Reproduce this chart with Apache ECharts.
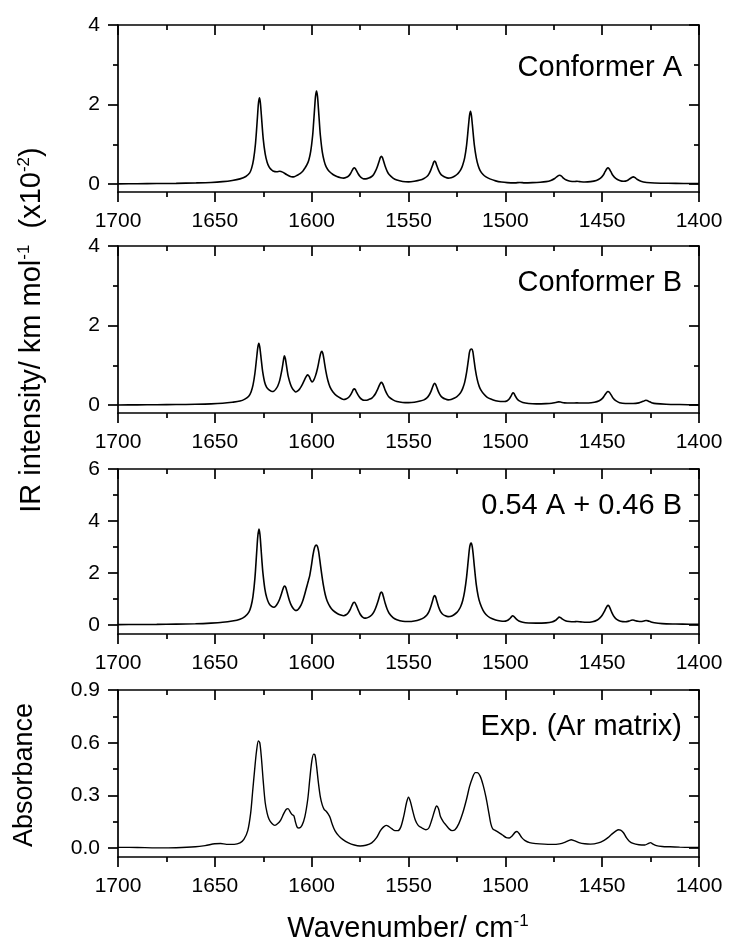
<!DOCTYPE html>
<html>
<head>
<meta charset="utf-8">
<script src="https://cdn.jsdelivr.net/npm/echarts@6/dist/echarts.min.js"></script>
<style>
  html, body { margin: 0; padding: 0; background: #fff; }
  #chart { width: 729px; height: 947px; }
</style>
</head>
<body>
<div id="chart"></div>
<script>
  // spectra: [wavenumber, intensity]
  const specA = [[1700,0.005],[1690,0.008],[1680,0.012],[1670,0.018],[1660,0.028],[1652,0.04],[1646,0.06],[1641,0.09],[1637,0.13],[1634,0.19],[1632,0.28],[1631,0.40],[1630,0.62],[1629,1.02],[1628,1.68],[1627.5,2.02],[1627,2.17],[1626.5,2.05],[1626,1.75],[1625,1.13],[1624,0.76],[1623,0.55],[1622,0.43],[1621,0.37],[1620,0.33],[1618,0.31],[1616.5,0.32],[1615,0.30],[1613,0.24],[1611,0.19],[1610,0.18],[1609,0.185],[1607.5,0.22],[1606,0.26],[1604.5,0.33],[1603.5,0.40],[1602.5,0.48],[1601.5,0.60],[1600.5,0.82],[1599.5,1.22],[1599,1.54],[1598.5,1.89],[1598,2.21],[1597.5,2.34],[1597,2.21],[1596.5,1.89],[1596,1.54],[1595.5,1.22],[1594.5,0.80],[1593.5,0.57],[1592.5,0.43],[1591,0.32],[1589,0.24],[1587,0.19],[1585,0.16],[1583.5,0.15],[1582,0.17],[1581,0.20],[1580,0.26],[1579,0.35],[1578.5,0.39],[1578,0.41],[1577.5,0.39],[1577,0.35],[1576,0.26],[1575,0.19],[1574,0.15],[1573,0.13],[1572,0.13],[1570.5,0.15],[1569,0.19],[1568,0.24],[1567,0.33],[1566,0.45],[1565,0.60],[1564.5,0.67],[1564,0.70],[1563.5,0.67],[1563,0.60],[1562,0.44],[1561,0.32],[1560,0.24],[1558,0.15],[1556,0.10],[1553,0.065],[1550,0.055],[1547,0.07],[1544,0.10],[1542,0.14],[1540.5,0.19],[1539.5,0.25],[1538.5,0.35],[1537.5,0.48],[1537,0.55],[1536.5,0.58],[1536,0.55],[1535.5,0.48],[1534.5,0.35],[1533.5,0.26],[1532.5,0.21],[1531,0.17],[1529.5,0.15],[1528,0.16],[1526.5,0.19],[1525,0.24],[1524,0.29],[1523,0.36],[1522,0.48],[1521,0.66],[1520,0.98],[1519,1.48],[1518.5,1.72],[1518,1.83],[1517.5,1.72],[1517,1.48],[1516,0.98],[1515,0.66],[1514,0.46],[1513,0.34],[1511.5,0.24],[1510,0.18],[1508,0.13],[1505,0.08],[1502,0.05],[1499,0.035],[1495,0.03],[1492.5,0.04],[1490,0.03],[1486,0.035],[1482,0.045],[1479,0.06],[1476.5,0.09],[1474.5,0.14],[1473,0.20],[1472,0.22],[1471,0.20],[1470,0.15],[1468.5,0.10],[1466.5,0.07],[1464,0.065],[1463,0.07],[1461.5,0.06],[1459,0.05],[1456,0.06],[1453,0.09],[1451,0.14],[1449.5,0.22],[1448.5,0.31],[1447.5,0.39],[1447,0.41],[1446.5,0.39],[1445.5,0.31],[1444.5,0.22],[1443,0.14],[1441,0.09],[1439,0.07],[1437,0.09],[1435.5,0.14],[1434.5,0.17],[1434,0.18],[1433,0.16],[1432,0.12],[1430,0.07],[1427,0.04],[1423,0.025],[1416,0.02],[1408,0.015],[1400,0.01]];

  const specB = [[1700,0.003],[1690,0.005],[1680,0.008],[1670,0.012],[1660,0.02],[1652,0.03],[1646,0.045],[1641,0.07],[1637,0.10],[1634.5,0.15],[1632.5,0.22],[1631.3,0.33],[1630.3,0.50],[1629.3,0.80],[1628.3,1.24],[1627.8,1.45],[1627.3,1.55],[1626.8,1.46],[1626.3,1.26],[1625.8,1.04],[1625.3,0.84],[1624.3,0.58],[1623.3,0.45],[1622,0.38],[1620.5,0.34],[1619.5,0.35],[1618.5,0.40],[1617.5,0.48],[1616.5,0.62],[1615.5,0.85],[1615,0.99],[1614.5,1.15],[1614.1,1.24],[1613.6,1.17],[1613.1,1.02],[1612.6,0.86],[1612.1,0.72],[1611,0.53],[1610,0.42],[1609,0.36],[1608.2,0.33],[1607,0.36],[1606,0.42],[1605,0.50],[1604,0.60],[1603,0.70],[1602.1,0.76],[1601.3,0.72],[1600.5,0.63],[1599.8,0.58],[1599,0.62],[1598,0.74],[1597,0.92],[1596,1.16],[1595.3,1.31],[1594.7,1.35],[1594.1,1.27],[1593.5,1.10],[1592.7,0.86],[1591.7,0.63],[1590.5,0.45],[1589,0.33],[1587,0.23],[1585,0.17],[1583.5,0.14],[1582,0.16],[1581,0.19],[1580,0.25],[1579,0.34],[1578.5,0.39],[1578,0.41],[1577.5,0.39],[1577,0.34],[1576,0.25],[1575,0.18],[1574,0.14],[1573,0.12],[1572,0.12],[1570.5,0.14],[1569,0.17],[1568,0.22],[1567,0.29],[1566,0.39],[1565,0.50],[1564.5,0.55],[1564,0.57],[1563.5,0.55],[1563,0.50],[1562,0.37],[1561,0.27],[1560,0.20],[1558,0.13],[1556,0.09],[1553,0.065],[1550,0.06],[1547,0.07],[1544,0.10],[1542,0.13],[1540.5,0.18],[1539.5,0.24],[1538.5,0.33],[1537.5,0.46],[1537,0.52],[1536.5,0.55],[1536,0.52],[1535.5,0.46],[1534.5,0.33],[1533.5,0.24],[1532.5,0.19],[1531,0.15],[1529.5,0.13],[1528,0.14],[1526.5,0.17],[1525,0.21],[1524,0.26],[1523,0.32],[1522,0.42],[1521,0.57],[1520,0.82],[1519,1.16],[1518.5,1.33],[1518,1.40],[1517.3,1.41],[1516.8,1.35],[1516.3,1.18],[1515.5,0.90],[1514.5,0.64],[1513.5,0.47],[1512.5,0.37],[1511,0.27],[1509.5,0.20],[1507.5,0.15],[1505,0.11],[1502.5,0.09],[1500.5,0.09],[1499,0.11],[1498,0.15],[1497,0.23],[1496.5,0.28],[1496,0.31],[1495.5,0.29],[1495,0.24],[1494,0.16],[1493,0.11],[1491,0.065],[1488,0.04],[1484,0.03],[1479,0.035],[1476,0.045],[1474,0.065],[1472.5,0.08],[1471.5,0.075],[1469.5,0.055],[1466,0.05],[1463,0.055],[1461,0.05],[1457,0.05],[1454,0.07],[1451.5,0.11],[1450,0.16],[1448.8,0.24],[1447.8,0.31],[1447,0.34],[1446.3,0.32],[1445.3,0.25],[1444.3,0.17],[1443,0.11],[1441,0.06],[1438,0.04],[1434,0.04],[1431,0.055],[1429.5,0.08],[1428.3,0.105],[1427.5,0.12],[1426.8,0.115],[1425.8,0.09],[1424.5,0.06],[1422,0.035],[1417,0.02],[1410,0.012],[1400,0.005]];

  const specMix = [[1700,0.01],[1690,0.015],[1680,0.02],[1670,0.03],[1660,0.045],[1652,0.07],[1646,0.10],[1641,0.15],[1637,0.22],[1634.5,0.32],[1632.5,0.48],[1631.3,0.72],[1630.3,1.10],[1629.3,1.80],[1628.3,2.90],[1627.8,3.42],[1627.2,3.69],[1626.7,3.48],[1626.2,3.00],[1625.7,2.48],[1625.2,2.02],[1624.2,1.40],[1623.2,1.05],[1622,0.82],[1620.5,0.70],[1619.5,0.68],[1618.5,0.73],[1617.5,0.84],[1616.5,1.00],[1615.5,1.22],[1615,1.34],[1614.4,1.46],[1613.9,1.50],[1613.4,1.45],[1612.9,1.32],[1612.3,1.15],[1611.5,0.94],[1610.5,0.75],[1609.5,0.63],[1608.5,0.56],[1607.7,0.56],[1606.7,0.62],[1605.5,0.76],[1604.5,0.95],[1603.5,1.20],[1602.5,1.48],[1601.7,1.70],[1601,1.90],[1600.2,2.25],[1599.3,2.70],[1598.5,2.98],[1597.7,3.07],[1597,3.02],[1596.4,2.82],[1595.8,2.50],[1595,2.05],[1594,1.55],[1593,1.17],[1592,0.92],[1590.5,0.70],[1589,0.56],[1587,0.45],[1585,0.38],[1583.5,0.35],[1582,0.40],[1581,0.48],[1580,0.61],[1579,0.78],[1578.5,0.85],[1578,0.87],[1577.5,0.84],[1577,0.76],[1576,0.58],[1575,0.42],[1574,0.32],[1573,0.27],[1572,0.26],[1570.5,0.30],[1569,0.38],[1568,0.48],[1567,0.64],[1566,0.85],[1565,1.10],[1564.5,1.22],[1564,1.26],[1563.5,1.22],[1563,1.10],[1562,0.82],[1561,0.60],[1560,0.45],[1558,0.28],[1556,0.20],[1553,0.14],[1550,0.13],[1547,0.15],[1544,0.21],[1542,0.28],[1540.5,0.38],[1539.5,0.50],[1538.5,0.70],[1537.5,0.95],[1537,1.08],[1536.5,1.13],[1536,1.08],[1535.5,0.95],[1534.5,0.70],[1533.5,0.52],[1532.5,0.42],[1531,0.35],[1529.5,0.32],[1528,0.33],[1526.5,0.39],[1525,0.48],[1524,0.58],[1523,0.72],[1522,0.94],[1521,1.30],[1520,1.85],[1519,2.60],[1518.5,2.95],[1518,3.12],[1517.6,3.15],[1517.1,3.02],[1516.6,2.72],[1516,2.25],[1515,1.55],[1514,1.10],[1513,0.82],[1511.5,0.56],[1510,0.40],[1508,0.28],[1505,0.19],[1502.5,0.15],[1500.7,0.14],[1499,0.17],[1498,0.22],[1497,0.30],[1496.3,0.35],[1495.6,0.33],[1495,0.28],[1494,0.20],[1493,0.15],[1491,0.10],[1488,0.075],[1484,0.07],[1479,0.08],[1476,0.11],[1474,0.18],[1473,0.25],[1472.2,0.30],[1471.5,0.28],[1470.5,0.22],[1469,0.16],[1467,0.13],[1464.5,0.12],[1463,0.13],[1461,0.115],[1458,0.10],[1455,0.12],[1452.5,0.19],[1451,0.28],[1450,0.37],[1449,0.50],[1448,0.65],[1447,0.75],[1446.4,0.72],[1445.7,0.60],[1444.8,0.44],[1443.8,0.31],[1442.5,0.21],[1440.5,0.14],[1438,0.12],[1436,0.15],[1435,0.18],[1434.2,0.19],[1433.2,0.17],[1431.5,0.14],[1430,0.13],[1428.5,0.15],[1427.3,0.17],[1426.3,0.155],[1425,0.12],[1423,0.08],[1419,0.05],[1412,0.035],[1405,0.025],[1400,0.02]];

  const specExp = [[1700,0.005],[1690,0.004],[1680,0.002],[1670,0.003],[1660,0.008],[1655,0.015],[1650,0.025],[1647,0.027],[1644,0.022],[1640,0.022],[1637,0.03],[1635,0.05],[1633,0.10],[1631.5,0.20],[1630.5,0.32],[1629.5,0.44],[1628.5,0.55],[1627.5,0.61],[1626.8,0.60],[1626,0.52],[1625,0.38],[1624,0.26],[1623,0.20],[1622,0.165],[1620.5,0.14],[1619,0.13],[1617.5,0.14],[1616,0.16],[1614.5,0.195],[1613.2,0.22],[1612.2,0.225],[1611,0.205],[1610,0.19],[1609.2,0.185],[1608.5,0.155],[1607.5,0.12],[1606.5,0.115],[1605,0.13],[1603.5,0.18],[1602,0.28],[1601,0.39],[1600,0.49],[1599,0.535],[1598.3,0.53],[1597.5,0.47],[1596.5,0.37],[1595.5,0.29],[1594.5,0.245],[1593.5,0.22],[1592.5,0.21],[1591.5,0.195],[1590.5,0.175],[1589.5,0.14],[1588,0.10],[1586,0.07],[1584,0.05],[1581,0.03],[1578,0.018],[1575,0.013],[1572,0.017],[1569,0.03],[1566.5,0.06],[1564.5,0.10],[1563,0.12],[1561.5,0.13],[1560,0.122],[1558.5,0.11],[1557,0.10],[1555.5,0.10],[1554,0.12],[1552.5,0.18],[1551,0.26],[1550,0.29],[1549,0.265],[1548,0.22],[1546.5,0.16],[1545,0.13],[1543,0.115],[1541,0.105],[1539.5,0.115],[1538,0.16],[1536.5,0.215],[1535.5,0.24],[1534.5,0.225],[1533.5,0.18],[1532,0.15],[1530.5,0.13],[1529,0.11],[1527.5,0.10],[1526,0.105],[1524,0.14],[1522,0.20],[1520,0.28],[1518.5,0.35],[1517,0.40],[1515.5,0.43],[1514.5,0.43],[1513,0.41],[1511.5,0.36],[1510,0.29],[1508.5,0.20],[1507.5,0.14],[1506.5,0.11],[1505,0.10],[1503.5,0.09],[1501.5,0.075],[1499.5,0.06],[1498,0.058],[1496.5,0.07],[1495,0.09],[1494,0.095],[1493,0.085],[1491.5,0.06],[1490,0.045],[1487.5,0.032],[1484,0.026],[1480,0.023],[1476,0.022],[1472,0.025],[1469,0.035],[1467,0.045],[1466,0.048],[1464.5,0.043],[1462,0.032],[1459,0.025],[1456,0.023],[1452,0.03],[1449,0.045],[1447,0.06],[1445,0.08],[1443,0.097],[1441.5,0.105],[1440.5,0.103],[1439,0.088],[1437.5,0.06],[1436,0.04],[1434,0.027],[1431,0.02],[1428,0.018],[1426,0.028],[1425,0.032],[1424,0.025],[1422,0.015],[1419,0.01],[1415,0.008],[1410,0.006],[1405,0.005],[1400,0.005]];

  const spectra = [specA, specB, specMix, specExp];
  const panelNames = ['Conformer A', 'Conformer B', '0.54 A + 0.46 B', 'Exp. (Ar matrix)'];
  const yRanges = [[-0.2, 4], [-0.2, 4], [-0.35, 6], [-0.05, 0.9]];
  const yMajor = [[0, 2, 4], [0, 2, 4], [0, 2, 4, 6], [0, 0.3, 0.6, 0.9]];
  const yMinor = [[1, 3], [1, 3], [1, 3, 5], [0.15, 0.45, 0.75]];

  const FONT = 'Liberation Sans, Arial, sans-serif';
  const grids = [
    { left: 118, right: 30, top: 25, height: 167 },
    { left: 118, right: 30, top: 246, height: 167 },
    { left: 118, right: 30, top: 469, height: 165 },
    { left: 118, right: 30, top: 690, height: 167 }
  ];
  const labelY = [68, 283, 506, 727];

  let xAxis = [], yAxis = [], series = [];
  const axisStroke = { color: '#000', width: 1.7 };
  const line = { show: true, onZero: false, lineStyle: axisStroke };

  grids.forEach((g, i) => {
    ['bottom', 'top'].forEach(pos => {
      xAxis.push({
        gridIndex: i, type: 'value', position: pos,
        min: 1400, max: 1700, interval: 50, inverse: true,
        axisLine: line,
        axisTick: { show: true, inside: pos === 'top', length: 10, lineStyle: axisStroke },
        minorTick: { show: true, splitNumber: 2, length: 5, lineStyle: axisStroke },
        axisLabel: { show: pos === 'bottom', color: '#000', fontSize: 21, fontFamily: FONT, margin: 19, formatter: v => String(v) },
        splitLine: { show: false }
      });
    });
    ['left', 'right'].forEach(pos => {
      // major ticks (+ labels on the left)
      yAxis.push({
        gridIndex: i, type: 'value', position: pos,
        min: yRanges[i][0], max: yRanges[i][1],
        axisLine: line,
        axisTick: { show: true, inside: pos === 'right', length: 10, customValues: yMajor[i], lineStyle: axisStroke },
        axisLabel: {
          show: pos === 'left', customValues: yMajor[i], color: '#000', fontSize: 21, fontFamily: FONT, margin: 18,
          formatter: v => i === 3 ? v.toFixed(1) : String(v)
        },
        splitLine: { show: false }
      });
      // minor ticks
      yAxis.push({
        gridIndex: i, type: 'value', position: pos,
        min: yRanges[i][0], max: yRanges[i][1],
        axisLine: { show: false, onZero: false },
        axisTick: { show: true, inside: pos === 'right', length: 5, customValues: yMinor[i], lineStyle: axisStroke },
        axisLabel: { show: false },
        splitLine: { show: false }
      });
    });
    series.push({
      type: 'line', xAxisIndex: i * 2, yAxisIndex: i * 4,
      data: spectra[i], showSymbol: false, smooth: 0.3,
      lineStyle: { color: '#000', width: i === 3 ? 1.4 : 1.6 },
      z: 1
    });
  });

  let graphic = panelNames.map((t, i) => ({
    type: 'text', x: 682, y: labelY[i],
    style: { text: t, fontSize: 29, fontFamily: FONT, fill: '#000', align: 'right', verticalAlign: 'middle', textAlign: 'right', textVerticalAlign: 'middle' }
  }));
  const sup = { fontSize: 17, fontFamily: FONT, fill: '#000', verticalAlign: 'top', lineHeight: 32 };
  const main = { fontSize: 29, fontFamily: FONT, fill: '#000', lineHeight: 32 };
  graphic.push({
    type: 'text', x: 32, y: 330, rotation: Math.PI / 2,
    style: { text: '{m|IR intensity/ km mol}{s|-1}{m|  (x10}{s|-2}{m|)}', rich: { m: main, s: sup }, align: 'center', verticalAlign: 'middle', textAlign: 'center', textVerticalAlign: 'middle' }
  });
  graphic.push({
    type: 'text', x: 25, y: 775, rotation: Math.PI / 2,
    style: { text: 'Absorbance', fontSize: 27, fontFamily: FONT, fill: '#000', align: 'center', verticalAlign: 'middle', textAlign: 'center', textVerticalAlign: 'middle' }
  });
  graphic.push({
    type: 'text', x: 408, y: 929,
    style: { text: '{m|Wavenumber/ cm}{s|-1}', rich: { m: main, s: sup }, align: 'center', verticalAlign: 'middle', textAlign: 'center', textVerticalAlign: 'middle' }
  });

  const chart = echarts.init(document.getElementById('chart'));
  chart.setOption({
    animation: false,
    backgroundColor: '#fff',
    textStyle: { fontFamily: FONT },
    grid: grids,
    xAxis: xAxis,
    yAxis: yAxis,
    series: series,
    graphic: graphic
  });
</script>
</body>
</html>
